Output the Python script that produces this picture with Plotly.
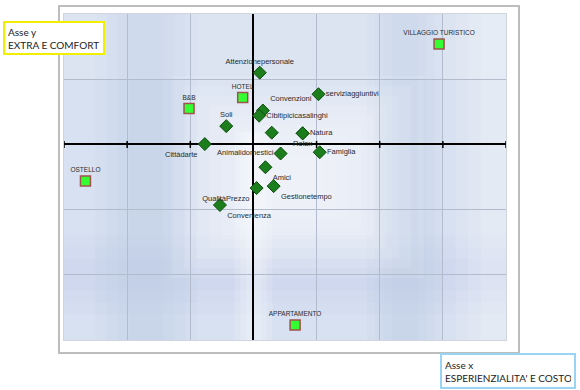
import plotly.graph_objects as go

# ---- data ----
sq_names = ["VILLAGGIO TURISTICO", "HOTEL", "B&B", "OSTELLO", "APPARTAMENTO"]
sq_x = [2.94, -0.17, -1.02, -2.66, 0.66]
sq_y = [1.54, 0.72, 0.55, -0.56, -2.77]

dm_names = ["Attenzionepersonale", "serviziaggiuntivi", "Convenzioni", "Cibitipicicasalinghi",
            "Soli", "", "Natura", "Relax", "Cittàdarte", "Animalidomestici", "Famiglia",
            "Amici", "QualitàPrezzo", "Gestionetempo", "Convenienza"]
dm_x = [0.10, 1.03, 0.15, 0.09, -0.43, 0.29, 0.78, 0.78, -0.77, 0.43, 1.05, 0.19, 0.05, 0.32, -0.53]
dm_y = [1.10, 0.77, 0.52, 0.44, 0.28, 0.18, 0.17, 0.17, 0.005, -0.14, -0.12, -0.35, -0.67, -0.64, -0.93]

x_ticks = [-3, -2, -1, 1, 2, 3, 4]
y_label = "Asse y<br>EXTRA E COMFORT"
x_label = "Asse x<br>ESPERIENZIALITA' E COSTO"

# ---- styles ----
dm_pos = ["top center", "middle right", "top right", "middle right", "top center", "top center",
          "middle right", "bottom center", "bottom left", "middle left", "middle right",
          "bottom right", "bottom left", "bottom right", "bottom right"]

fig = go.Figure()

shapes = []
# soft darker vertical bands
for (xc, w) in [(-1.7, 0.8), (2.4, 0.6)]:
    for i in range(4):
        ww = w * (1 - i * 0.22)
        shapes.append(dict(type="rect", xref="x", yref="y", x0=xc - ww, x1=xc + ww, y0=-3, y1=2,
                           fillcolor="#b4c5e4", opacity=0.10, line_width=0, layer="below"))
# soft darker lower band
for i in range(3):
    hh = 0.6 * (1 - i * 0.3)
    shapes.append(dict(type="rect", xref="x", yref="y", x0=-3, x1=4, y0=-2.0 - hh, y1=-2.0 + hh,
                       fillcolor="#b4c5e4", opacity=0.08, line_width=0, layer="below"))
# lighter right edge and top strip
for i in range(3):
    shapes.append(dict(type="rect", xref="x", yref="y", x0=3.2 + i * 0.2, x1=4, y0=-3, y1=2,
                       fillcolor="white", opacity=0.12, line_width=0, layer="below"))
shapes.append(dict(type="rect", xref="x", yref="y", x0=-3, x1=4, y0=1.0, y1=2,
                   fillcolor="white", opacity=0.12, line_width=0, layer="below"))
# central white glow (nested)
cx, cy = 0.7, -0.5
for i in range(9):
    w = 2.0 - i * 0.2
    h = 1.55 - i * 0.15
    shapes.append(dict(type="rect", xref="x", yref="y", x0=cx - w, x1=cx + w, y0=cy - h, y1=cy + h,
                       fillcolor="white", opacity=0.10, line_width=0, layer="below"))
# white vertical band around y axis (lower part)
for i in range(3):
    w = 0.3 - i * 0.09
    shapes.append(dict(type="rect", xref="x", yref="y", x0=-w, x1=w, y0=-3, y1=0.2,
                       fillcolor="white", opacity=0.15, line_width=0, layer="below"))
# outer frame
shapes.append(dict(type="rect", xref="paper", yref="paper", x0=-0.0113, x1=1.0294, y0=-0.040, y1=1.0245,
                   line=dict(color="#bdbdbd", width=2), fillcolor="rgba(0,0,0,0)", layer="below"))

fig.add_trace(go.Scatter(
    x=x_ticks, y=[0] * len(x_ticks), mode="markers",
    marker=dict(symbol="line-ns", size=5, line=dict(color="black", width=1.5)),
    hoverinfo="skip", showlegend=False))

fig.add_trace(go.Scatter(
    x=dm_x, y=dm_y, mode="markers+text", text=dm_names, textposition=dm_pos,
    textfont=dict(family="Liberation Sans", size=7.5, color="#2a2a2a"),
    marker=dict(symbol="diamond", size=10, color="#1c7d1c", line=dict(color="#0d4d0d", width=1)),
    showlegend=False))

fig.add_trace(go.Scatter(
    x=sq_x, y=sq_y, mode="markers+text", text=sq_names, textposition="top center",
    textfont=dict(family="Liberation Sans", size=6.5, color="#2a2a2a"),
    marker=dict(symbol="square", size=10, color="#33ff33", line=dict(color="#a0524d", width=1.5)),
    showlegend=False))

fig.update_layout(
    width=580, height=390,
    margin=dict(l=64, r=74, t=14, b=50),
    paper_bgcolor="white", plot_bgcolor="#d8e1f1",
    shapes=shapes,
    xaxis=dict(range=[-3, 4], dtick=1, showticklabels=False, ticks="",
               showgrid=True, gridcolor="#b3bccd", gridwidth=1,
               zeroline=True, zerolinecolor="black", zerolinewidth=2,
               showline=True, linecolor="#d0d4dc", linewidth=1, mirror=True, fixedrange=True),
    yaxis=dict(range=[-3, 2], dtick=1, showticklabels=False, ticks="",
               showgrid=True, gridcolor="#b3bccd", gridwidth=1,
               zeroline=True, zerolinecolor="black", zerolinewidth=2,
               showline=True, linecolor="#d0d4dc", linewidth=1, mirror=True, fixedrange=True),
    annotations=[
        dict(text=y_label, xref="paper", yref="paper", x=-0.138, y=0.9785,
             xanchor="left", yanchor="top", showarrow=False, align="left",
             font=dict(family="Lato", size=10, color="#222222"),
             bordercolor="#f2ee00", borderwidth=2, borderpad=3, bgcolor="white",
             width=92, height=24),
        dict(text=x_label, xref="paper", yref="paper", x=0.8507, y=-0.040,
             xanchor="left", yanchor="top", showarrow=False, align="left",
             font=dict(family="Lato", size=10, color="#222222"),
             bordercolor="#9ad4f5", borderwidth=2, borderpad=3, bgcolor="white",
             width=126, height=26),
    ],
)

fig.write_html("out.html", config={"displayModeBar": False},
               post_script="document.body.style.margin='0';document.body.style.overflow='hidden';")
